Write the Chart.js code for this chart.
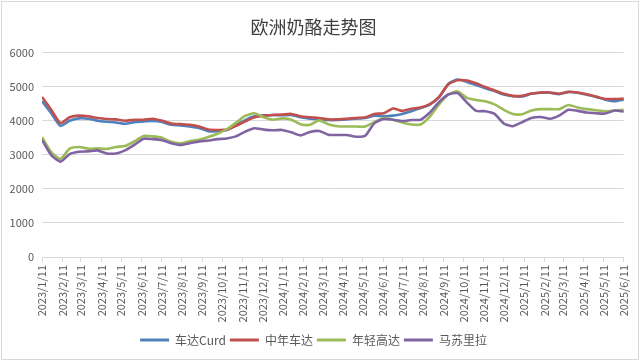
<!DOCTYPE html>
<html>
<head>
<meta charset="utf-8">
<script src="https://cdn.jsdelivr.net/npm/chart.js@4.4.1/dist/chart.umd.min.js"></script>
<style>
  body { margin: 0; background: #fff; }
  canvas { display: block; }
</style>
</head>
<body>
<canvas id="cheeseChart" width="640" height="361"></canvas>
<script>
// month tick labels on the x axis
const monthLabels = [
  '2023/1/11', '2023/2/11', '2023/3/11', '2023/4/11', '2023/5/11', '2023/6/11',
  '2023/7/11', '2023/8/11', '2023/9/11', '2023/10/11', '2023/11/11', '2023/12/11',
  '2024/1/11', '2024/2/11', '2024/3/11', '2024/4/11', '2024/5/11', '2024/6/11',
  '2024/7/11', '2024/8/11', '2024/9/11', '2024/10/11', '2024/11/11', '2024/12/11',
  '2025/1/11', '2025/2/11', '2025/3/11', '2025/4/11', '2025/5/11', '2025/6/11'
];
const seriesNames = ['车达Curd', '中年车达', '年轻高达', '马苏里拉'];

// prices, one value every two weeks from 2023/1/11
const sampleStart = '2023/1/11';
const sampleStepDays = 14;

const cheddarCurd = [
  4580, 4220, 3850, 4000, 4070, 4060, 4000, 3970, 3950, 3910,
  3960, 3980, 3990, 3960, 3880, 3860, 3830, 3790, 3690, 3690,
  3730, 3870, 4020, 4130, 4150, 4170, 4160, 4170, 4100, 4060,
  4050, 4020, 4020, 4040, 4060, 4080, 4150, 4130, 4150, 4200,
  4280, 4370, 4470, 4690, 5080, 5210, 5140, 5050, 4950, 4870,
  4770, 4720, 4710, 4790, 4820, 4820, 4780, 4840, 4820, 4760,
  4700, 4620, 4570, 4620
];
const matureCheddar = [
  4700, 4320, 3930, 4100, 4150, 4130, 4080, 4050, 4040, 4000,
  4030, 4030, 4060, 4000, 3920, 3900, 3880, 3830, 3740, 3730,
  3740, 3850, 3980, 4100, 4150, 4170, 4180, 4200, 4130, 4100,
  4080, 4040, 4040, 4060, 4080, 4100, 4200, 4220, 4360, 4290,
  4350, 4390, 4490, 4700, 5070, 5190, 5180, 5100, 4990, 4890,
  4790, 4730, 4730, 4800, 4830, 4830, 4790, 4850, 4830, 4780,
  4710, 4640, 4640, 4650
];
const youngGouda = [
  3520, 3080, 2880, 3180, 3230, 3180, 3190, 3170, 3230, 3260,
  3390, 3550, 3540, 3500, 3380, 3340, 3400, 3440, 3520, 3620,
  3750, 3940, 4140, 4220, 4100, 4030, 4070, 4030, 3900, 3880,
  4010, 3900, 3840, 3830, 3830, 3830, 3960, 4080, 4030, 3950,
  3890, 3890, 4120, 4480, 4770, 4860, 4670, 4610, 4570, 4480,
  4320, 4200, 4190, 4300, 4340, 4340, 4340, 4460, 4390, 4340,
  4310, 4280, 4300, 4320
];
const mozzarella = [
  3440, 2990, 2800, 3020, 3090, 3100, 3130, 3040, 3040, 3130,
  3290, 3470, 3460, 3430, 3340, 3290, 3340, 3390, 3420, 3460,
  3480, 3540, 3680, 3780, 3740, 3720, 3730, 3660, 3570, 3670,
  3700, 3590, 3580, 3580, 3530, 3560, 3930, 4050, 4030, 3990,
  4020, 4030, 4240, 4550, 4770, 4810, 4540, 4290, 4280, 4200,
  3920, 3840, 3960, 4080, 4110, 4060, 4150, 4320, 4290, 4240,
  4220, 4210, 4300, 4270
];

const yTicks = [0, 1000, 2000, 3000, 4000, 5000, 6000];

function dayOf(s) {
  const [y, m, d] = s.split('/').map(Number);
  const [y0, m0, d0] = sampleStart.split('/').map(Number);
  return Math.round((Date.UTC(y, m - 1, d) - Date.UTC(y0, m0 - 1, d0)) / 86400000);
}
const monthDays = monthLabels.map(dayOf);

function toPoints(values) {
  return values.map((v, i) => ({ x: i * sampleStepDays, y: v }));
}

const colors = ['#4F81BD', '#C0504D', '#9BBB59', '#8064A2'];
const allSeries = [cheddarCurd, matureCheddar, youngGouda, mozzarella];

const fontFamily = '"Noto Sans CJK SC", "Noto Sans", sans-serif';
const textColor = '#595959';
const gridColor = '#d9d9d9';

const frame = {
  id: 'frame',
  beforeDraw(chart) {
    const c = chart.ctx;
    c.save();
    c.fillStyle = '#fff';
    c.fillRect(0, 0, chart.width, chart.height);
    c.strokeStyle = '#d9d9d9';
    c.lineWidth = 1;
    c.strokeRect(1.5, 1.5, chart.width - 3, chart.height - 3);
    c.restore();
  }
};

new Chart(document.getElementById('cheeseChart'), {
  type: 'line',
  data: {
    datasets: allSeries.map((vals, i) => ({
      label: seriesNames[i],
      data: toPoints(vals),
      borderColor: colors[i],
      backgroundColor: colors[i],
      borderWidth: 2.6,
      pointRadius: 0,
      tension: 0.2,
      fill: false,
      order: 4 - i
    }))
  },
  options: {
    responsive: false,
    animation: false,
    layout: { padding: { left: 0, right: 13, top: 0, bottom: 5 } },
    plugins: {
      title: {
        display: true,
        text: '欧洲奶酪走势图',
        color: '#404040',
        font: { family: fontFamily, size: 18, weight: 'normal' },
        padding: { top: 16, bottom: 15 }
      },
      legend: {
        position: 'bottom',
        labels: {
          boxWidth: 29,
          boxHeight: 3,
          padding: 4,
          color: textColor,
          font: { family: fontFamily, size: 12 },
          sort: (a, b) => a.datasetIndex - b.datasetIndex,
          generateLabels(chart) {
            const items = Chart.defaults.plugins.legend.labels.generateLabels(chart);
            items.forEach(it => { it.fillStyle = it.strokeStyle; it.lineWidth = 0; });
            return items;
          }
        }
      },
      tooltip: { enabled: false }
    },
    scales: {
      x: {
        type: 'linear',
        min: 0,
        max: monthDays[monthDays.length - 1],
        afterBuildTicks(scale) {
          scale.ticks = monthDays.map(v => ({ value: v }));
        },
        afterFit(scale) { scale.height = 73; },
        ticks: {
          autoSkip: false,
          minRotation: 90,
          maxRotation: 90,
          padding: 3,
          color: textColor,
          font: { family: fontFamily, size: 11 },
          callback: (value, index) => monthLabels[index]
        },
        grid: { drawOnChartArea: false, drawTicks: true, tickLength: 5, color: gridColor },
        border: { display: true, color: gridColor }
      },
      y: {
        min: 0,
        max: 6000,
        afterBuildTicks(scale) {
          scale.ticks = yTicks.map(v => ({ value: v }));
        },
        afterFit(scale) { scale.width = 42; },
        ticks: {
          padding: 8,
          color: textColor,
          font: { family: fontFamily, size: 11 },
          callback: value => String(value)
        },
        grid: { color: gridColor, drawTicks: false },
        border: { display: false }
      }
    }
  },
  plugins: [frame]
});
</script>
</body>
</html>
